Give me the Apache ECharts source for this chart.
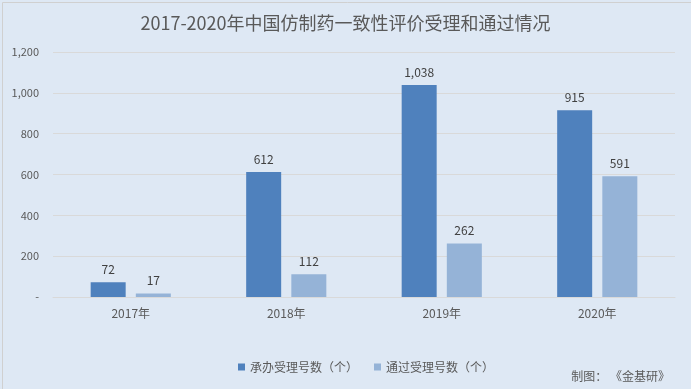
<!DOCTYPE html>
<html><head><meta charset="utf-8">
<script src="https://cdn.jsdelivr.net/npm/echarts@6/dist/echarts.min.js"></script>
<style>html,body{margin:0;padding:0;background:#fff}#c{width:691px;height:389px}</style>
</head><body><div id="c"></div>
<script>
var categories = ['2017年','2018年','2019年','2020年'];
var accepted = [72, 612, 1038, 915];
var approved = [17, 112, 262, 591];
var seriesNames = ['承办受理号数（个）','通过受理号数（个）'];
var titleText = '2017-2020年中国仿制药一致性评价受理和通过情况';
var sourceText = '制图： 《金基研》';

var chart = echarts.init(document.getElementById('c'));
var font = '"Microsoft YaHei","Noto Sans CJK SC",sans-serif';
chart.setOption({
  backgroundColor: '#dee8f4',
  animation: false,
  title: {text: titleText, left: 'center', top: 9,
    textStyle: {fontSize: 18, fontWeight: 'normal', color: '#595959', fontFamily: font}},
  graphic: [{type: 'rect', left: 0, top: 0, shape: {width: 690, height: 388},
      style: {fill: 'none', stroke: '#d0d0d0', lineWidth: 1}, silent: true},
    {type: 'text', right: 21, top: 370, style: {text: sourceText, fill: '#595959', font: '12px ' + font}}],
  legend: {data: seriesNames, left: 233, top: 356, itemWidth: 7, itemHeight: 7, itemGap: 16,
    icon: 'rect', textStyle: {color: '#595959', fontSize: 12, fontFamily: font}},
  grid: {left: 53, right: 16, top: 52, bottom: 92, containLabel: false},
  xAxis: {type: 'category', data: categories,
    axisLine: {lineStyle: {color: '#d9d9d9'}}, axisTick: {show: false},
    axisLabel: {color: '#595959', fontSize: 12, margin: 10, fontFamily: font}},
  yAxis: {type: 'value', min: 0, max: 1200, interval: 200,
    axisLine: {show: false}, axisTick: {show: false},
    splitLine: {lineStyle: {color: '#d9d9d9'}},
    axisLabel: {color: '#595959', fontSize: 11, margin: 14, fontFamily: font,
      formatter: function(v){ return v === 0 ? '-' : v.toLocaleString('en-US'); }}},
  series: [
    {name: seriesNames[0], type: 'bar', data: accepted, barWidth: 35, barGap: '29%',
      itemStyle: {color: '#4f81bd'},
      label: {show: true, position: 'top', distance: 7, color: '#404040', fontSize: 12, fontFamily: font,
        formatter: function(p){ return p.value.toLocaleString('en-US'); }}},
    {name: seriesNames[1], type: 'bar', data: approved, barWidth: 35,
      itemStyle: {color: '#95b3d7'},
      label: {show: true, position: 'top', distance: 7, color: '#404040', fontSize: 12, fontFamily: font,
        formatter: function(p){ return p.value.toLocaleString('en-US'); }}}
  ]
});
</script></body></html>
